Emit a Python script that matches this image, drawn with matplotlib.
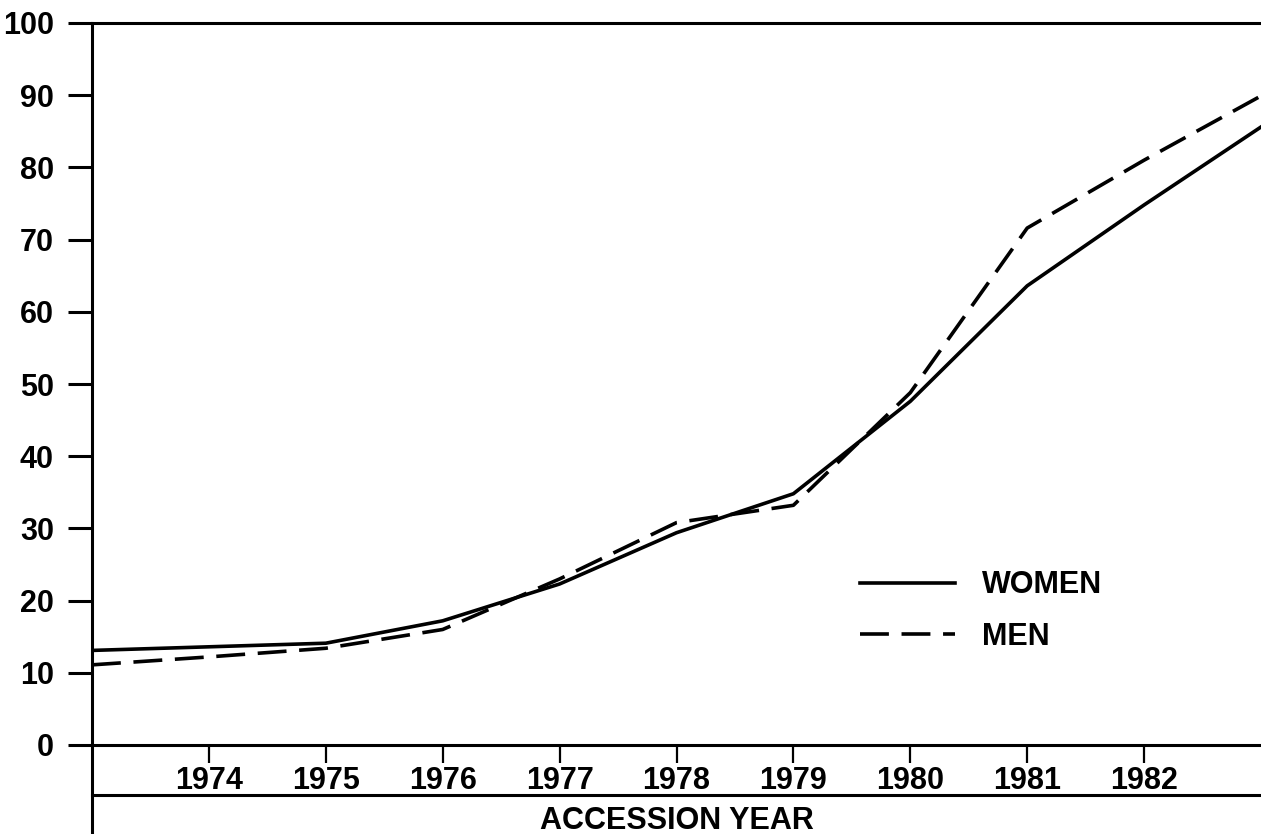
import matplotlib
matplotlib.use("Agg")
import matplotlib.pyplot as plt

# values (percent)
years = [1973, 1974, 1975, 1976, 1977, 1978, 1979, 1980, 1981, 1982, 1983]
women = [13.1, 13.6, 14.1, 17.2, 22.3, 29.4, 34.8, 47.6, 63.6, 74.8, 85.6]
men = [11.1, 12.2, 13.4, 16.0, 23.0, 30.8, 33.2, 48.8, 71.6, 81.0, 89.9]

year_ticks = [1974, 1975, 1976, 1977, 1978, 1979, 1980, 1981, 1982]
pct_ticks = [0, 10, 20, 30, 40, 50, 60, 70, 80, 90, 100]

narrow = ['Liberation Sans Narrow', 'Liberation Sans', 'DejaVu Sans']
wide = ['Liberation Sans', 'DejaVu Sans']

W, H = 1261, 834
fig = plt.figure(figsize=(W / 100, H / 100), dpi=100)
ax = fig.add_axes([92 / W, (H - 745) / H, (W - 92) / W, (745 - 23) / H])

lw = 2.6
ax.plot(years, women, color='black', lw=lw, label='WOMEN')
ax.plot(years, men, color='black', lw=lw, dashes=(8, 3.5), label='MEN')

ax.set_xlim(1973, 1983)
ax.set_ylim(0, 100)

# axes frame: left, top and bottom lines, no right one
for side in ['left', 'top', 'bottom']:
    ax.spines[side].set_linewidth(2.2)
ax.spines['right'].set_visible(False)
ax.spines['left'].set_bounds(-12.5, 100)

# the line under the year labels
ax.axhline(-6.9, color='black', lw=2.2, clip_on=False)

ax.set_yticks(pct_ticks)
ax.set_yticklabels([str(v) for v in pct_ticks], family=narrow,
                   fontweight='bold', fontsize=22)
ax.tick_params(axis='y', direction='out', length=17.5, width=2.2, pad=10)

ax.set_xticks(year_ticks)
ax.set_xticklabels([str(y) for y in year_ticks], family=narrow,
                   fontweight='bold', fontsize=22)
ax.tick_params(axis='x', direction='out', length=13, width=1.6, pad=2)

ax.set_xlabel('ACCESSION YEAR', family=wide, fontweight='bold',
              fontsize=22, labelpad=7)

leg = ax.legend(loc='upper left', bbox_to_anchor=(0.657, 0.242),
                frameon=False, handlelength=3.1, handletextpad=0.9,
                labelspacing=0.7, borderpad=0, borderaxespad=0,
                prop={'family': wide, 'weight': 'bold', 'size': 22})

fig.savefig('out.png', dpi=100, facecolor='white')
